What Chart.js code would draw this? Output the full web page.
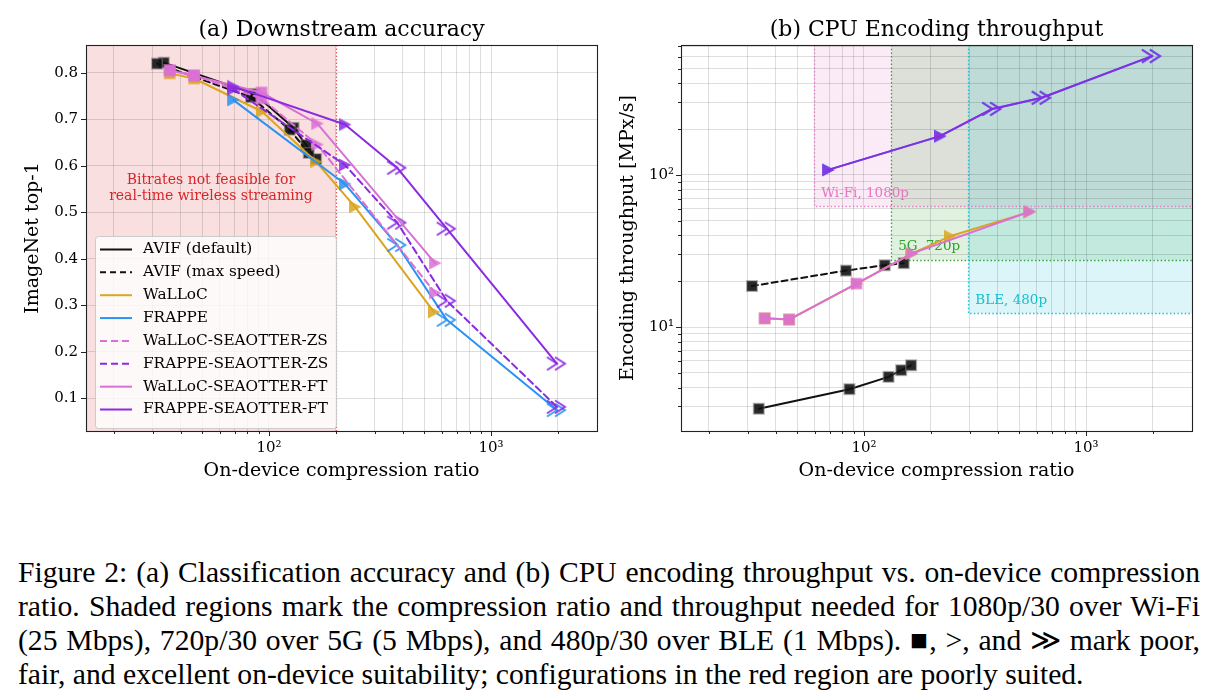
<!DOCTYPE html>
<html><head><meta charset="utf-8">
<script src="https://cdn.jsdelivr.net/npm/chart.js@4/dist/chart.umd.min.js"></script>
<style>
html,body{margin:0;padding:0;background:#fff;width:1219px;height:700px;overflow:hidden}
#c1{position:absolute;left:0;top:0}
#c2{position:absolute;left:609px;top:0}
#cap{position:absolute;left:18px;top:555px;width:1182px;font-family:'Liberation Serif','Times New Roman',serif;font-size:29.65px;line-height:34px;color:#000}
#cap .j{text-align:justify;text-align-last:justify}
</style></head>
<body>
<canvas id="c1" width="609" height="500"></canvas>
<canvas id="c2" width="610" height="500"></canvas>
<div id="cap">
<div class="j">Figure 2: (a) Classification accuracy and (b) CPU encoding throughput vs. on-device compression</div>
<div class="j">ratio. Shaded regions mark the compression ratio and throughput needed for 1080p/30 over Wi-Fi</div>
<div class="j">(25 Mbps), 720p/30 over 5G (5 Mbps), and 480p/30 over BLE (1 Mbps). ■, &gt;, and ≫ mark poor,</div>
<div>fair, and excellent on-device suitability; configurations in the red region are poorly suited.</div>
</div>
<script>
// ---------------- data ----------------
const titleA = '(a) Downstream accuracy';
const titleB = '(b) CPU Encoding throughput';
const xLabel = 'On-device compression ratio';
const yLabelA = 'ImageNet top-1';
const yLabelB = 'Encoding throughput [MPx/s]';

const xAvifDefault = [33.6, 86, 129, 147, 163];
const accAvifDefault = [0.822, 0.755, 0.682, 0.645, 0.615];
const tputAvifDefault = [2.9, 3.9, 4.7, 5.2, 5.6];
const mkAvifDefault = ['sq','sq','sq','sq','sq'];

const xAvifMax = [31.3, 83, 124, 151];
const accAvifMax = [0.820, 0.748, 0.678, 0.628];
const tputAvifMax = [18.6, 23.5, 25.5, 26.3];
const mkAvifMax = ['sq','sq','sq','sq'];

const xWalloc = [35.7, 46, 93, 163, 244, 553];
const accWalloc = [0.799, 0.788, 0.717, 0.609, 0.512, 0.286];
const tputWalloc = [11.4, 11.2, 19.3, 30.3, 39.5, 57];
const mkWalloc = ['sq','sq','tri','tri','tri','tri'];

const xFrappe = [69, 220, 378, 632, 1980];
const accFrappe = [0.742, 0.561, 0.430, 0.269, 0.075];
const tputFrappe = [108, 180, 272, 322, 605];
const mkFrappe = ['tri','tri','gg','gg','gg'];

const xWallocSea = [35.7, 46, 92.5, 165, 560];
const accWallocSeaZS = [0.806, 0.795, 0.745, 0.646, 0.327];
const accWallocSeaFT = [0.805, 0.794, 0.758, 0.691, 0.391];
const tputWallocSea = [11.4, 11.2, 19.3, 30.5, 57.5];
const mkWallocSea = ['sq','sq','sq','tri','tri'];

const xFrappeSea = [69, 220, 378, 632, 1980];
const accFrappeSeaZS = [0.765, 0.602, 0.478, 0.310, 0.082];
const accFrappeSeaFT = [0.771, 0.689, 0.596, 0.465, 0.175];
const tputFrappeSea = [108, 180, 272, 322, 605];
const mkFrappeSea = ['tri','tri','gg','gg','gg'];

const xTickVals = [20,30,40,50,60,70,80,90,100,200,300,400,500,600,700,800,900,1000,2000];
const xMajorVals = [100, 1000];
const accTickVals = [0.1,0.2,0.3,0.4,0.5,0.6,0.7,0.8];
const tputTickVals = [3,4,5,6,7,8,9,10,20,30,40,50,60,70,80,90,100,200,300,400,500,600,700];
const tputMajorVals = [10, 100];
const supLabels = {10:'10¹', 100:'10²', 1000:'10³'};

const redLimit = 200;
const redText = ['Bitrates not feasible for', 'real-time wireless streaming'];
const regionNames = ['Wi-Fi, 1080p', '5G, 720p', 'BLE, 480p'];
const regionCR = [59.7, 132.7, 295];
const regionTput = [62.2, 27.65, 12.3];

// ---------------- styles ----------------
const X_MIN = 15, X_MAX = 3000;
const ACC_MIN = 0.03, ACC_MAX = 0.86;
const TP_MIN = 2.07, TP_MAX = 716;
const GRID = 'rgba(0,0,0,0.13)';
const FONT = "'DejaVu Serif', serif";
const C = {black:'#111111', gold:'#daa520', blue:'#2a92f3', orchid:'#da70d6', violet:'#8a2be2'};
const REGION_COL = ['227,119,194', '44,160,44', '23,190,207'];
const REGION_TXT = ['#e377c2', '#2ca02c', '#17becf'];

Chart.defaults.font.family = FONT;
Chart.defaults.color = '#000';
Chart.defaults.animation = false;

function makeMarker(type, color, edge) {
  const c = document.createElement('canvas');
  const g = c.getContext('2d');
  if (type === 'sq') {
    c.width = 14; c.height = 14;
    g.globalAlpha = 0.9; g.fillStyle = color; g.fillRect(2, 2, 10, 10);
    g.globalAlpha = 0.55; g.strokeStyle = edge || color; g.lineWidth = 1.5; g.strokeRect(1.75, 1.75, 10.5, 10.5);
  } else if (type === 'tri') {
    c.width = 16; c.height = 16;
    g.globalAlpha = 0.85; g.fillStyle = color;
    g.beginPath(); g.moveTo(2, 1.5); g.lineTo(14.5, 8); g.lineTo(2, 14.5); g.closePath(); g.fill();
  } else {
    c.width = 24; c.height = 18;
    g.globalAlpha = 0.9; g.strokeStyle = color; g.lineWidth = 2;
    g.beginPath(); g.moveTo(2, 2.5); g.lineTo(12, 9); g.lineTo(2, 15.5);
    g.moveTo(10, 2.5); g.lineTo(20, 9); g.lineTo(10, 15.5); g.stroke();
  }
  return c;
}

function ds(label, xs, ys, color, dash, marks, order, edge) {
  const set = {sq: makeMarker('sq', color, edge), tri: makeMarker('tri', color), gg: makeMarker('gg', color)};
  return {
    label, data: xs.map((x, i) => ({x, y: ys[i]})),
    borderColor: color, backgroundColor: color, borderWidth: 2, borderDash: dash,
    borderJoinStyle: 'round', borderCapStyle: 'round',
    pointStyle: (ctx) => set[marks[ctx.dataIndex]],
    pointRadius: 5, pointHoverRadius: 5, tension: 0, fill: false, order
  };
}

function logTickMarks(ctx, a, xs, ys, xMaj, yMaj, yScale, xScale) {
  ctx.save();
  ctx.strokeStyle = '#222'; ctx.lineWidth = 1;
  ctx.beginPath();
  xs.forEach(v => {
    const p = Math.round(xScale.getPixelForValue(v)) + 0.5;
    const len = xMaj.includes(v) ? 5 : 3;
    ctx.moveTo(p, a.bottom); ctx.lineTo(p, a.bottom + len);
  });
  ys.forEach(v => {
    const p = Math.round(yScale.getPixelForValue(v)) + 0.5;
    const len = (yMaj === null || yMaj.includes(v)) ? 5 : 3;
    ctx.moveTo(a.left, p); ctx.lineTo(a.left - len, p);
  });
  ctx.stroke();
  ctx.strokeStyle = '#222'; ctx.lineWidth = 1.1;
  ctx.strokeRect(Math.round(a.left) + 0.5, Math.round(a.top) + 0.5, Math.round(a.right - a.left), Math.round(a.bottom - a.top));
  ctx.restore();
}

function titles(ctx, a, title, yLab, yLabX) {
  ctx.save();
  ctx.fillStyle = '#000';
  ctx.textAlign = 'center'; ctx.textBaseline = 'middle';
  ctx.font = "22px " + FONT;
  ctx.fillText(title, (a.left + a.right) / 2, 30);
  ctx.font = "19px " + FONT;
  ctx.fillText(xLabel, (a.left + a.right) / 2, 471);
  ctx.translate(yLabX, (a.top + a.bottom) / 2);
  ctx.rotate(-Math.PI / 2);
  ctx.fillText(yLab, 0, 0);
  ctx.restore();
}

function xScaleOpts() {
  return {
    type: 'logarithmic', min: X_MIN, max: X_MAX, position: 'bottom',
    afterBuildTicks: s => { s.ticks = xTickVals.map(v => ({value: v})); },
    afterFit: s => { s.height = 69; },
    ticks: {autoSkip: false, maxRotation: 0, minRotation: 0, padding: 8, font: {size: 15}, color: '#000',
      callback: v => supLabels[v] || ''},
    grid: {color: GRID, lineWidth: 1, drawTicks: false},
    border: {display: false}
  };
}

// ---------------- chart (a) ----------------
const plugA = {
  id: 'decoA',
  beforeDraw(chart) {
    const {ctx, chartArea: a, scales: {x}} = chart;
    const xr = x.getPixelForValue(redLimit);
    ctx.save();
    ctx.fillStyle = 'rgba(214,39,40,0.15)';
    ctx.fillRect(a.left, a.top, xr - a.left, a.bottom - a.top);
    ctx.restore();
  },
  beforeDatasetsDraw(chart) {
    const {ctx, chartArea: a, scales: {x, y}} = chart;
    const xr = Math.round(x.getPixelForValue(redLimit)) + 0.5;
    ctx.save();
    ctx.strokeStyle = 'rgba(214,39,40,0.75)'; ctx.lineWidth = 1.2; ctx.setLineDash([1.5, 2]);
    ctx.beginPath(); ctx.moveTo(xr, a.top); ctx.lineTo(xr, a.bottom); ctx.stroke();
    ctx.setLineDash([]);
    ctx.fillStyle = '#d62728'; ctx.font = "14px " + FONT; ctx.textAlign = 'center'; ctx.textBaseline = 'middle';
    const cx = x.getPixelForValue(Math.sqrt(X_MIN * redLimit));
    const cy = y.getPixelForValue(0.552);
    ctx.fillText(redText[0], cx, cy - 7.5);
    ctx.fillText(redText[1], cx, cy + 8);
    ctx.restore();
  },
  afterDatasetsDraw(chart) {
    const {ctx, chartArea: a, scales: {x, y}} = chart;
    // legend
    const items = chart.data.datasets.slice();
    ctx.save();
    ctx.font = "15.3px " + FONT;
    let maxW = 0; items.forEach(d => { maxW = Math.max(maxW, ctx.measureText(d.label).width); });
    const bx = 95, bb = 428, step = 22.86, bh = 192;
    const bw = Math.max(241, 48 + maxW + 7);
    const by = bb - bh;
    ctx.fillStyle = 'rgba(255,255,255,0.8)';
    ctx.strokeStyle = 'rgba(200,200,200,0.9)'; ctx.lineWidth = 1;
    ctx.beginPath();
    if (ctx.roundRect) ctx.roundRect(bx + 0.5, by + 0.5, bw, bh, 3); else ctx.rect(bx + 0.5, by + 0.5, bw, bh);
    ctx.fill(); ctx.stroke();
    items.forEach((d, i) => {
      const yy = 249.5 + i * step;
      ctx.strokeStyle = d.borderColor; ctx.lineWidth = 2; ctx.setLineDash(d.borderDash || []);
      ctx.beginPath(); ctx.moveTo(100, yy); ctx.lineTo(132, yy); ctx.stroke();
      ctx.setLineDash([]);
      ctx.fillStyle = '#000'; ctx.textAlign = 'left'; ctx.textBaseline = 'middle';
      ctx.fillText(d.label, 143, yy);
    });
    ctx.restore();
    logTickMarks(ctx, a, xTickVals, accTickVals, xMajorVals, null, y, x);
  },
  afterDraw(chart) {
    titles(chart.ctx, chart.chartArea, titleA, yLabelA, 33);
  }
};

new Chart(document.getElementById('c1'), {
  type: 'line',
  data: {datasets: [
    ds('AVIF (default)', xAvifDefault, accAvifDefault, C.black, [], mkAvifDefault, 10, '#777'),
    ds('AVIF (max speed)', xAvifMax, accAvifMax, C.black, [6, 4], mkAvifMax, 9, '#777'),
    ds('WaLLoC', xWalloc, accWalloc, C.gold, [], mkWalloc, 8),
    ds('FRAPPE', xFrappe, accFrappe, C.blue, [], mkFrappe, 7),
    ds('WaLLoC-SEAOTTER-ZS', xWallocSea, accWallocSeaZS, C.orchid, [7, 4], mkWallocSea, 6),
    ds('FRAPPE-SEAOTTER-ZS', xFrappeSea, accFrappeSeaZS, C.violet, [7, 4], mkFrappeSea, 5),
    ds('WaLLoC-SEAOTTER-FT', xWallocSea, accWallocSeaFT, C.orchid, [], mkWallocSea, 4),
    ds('FRAPPE-SEAOTTER-FT', xFrappeSea, accFrappeSeaFT, C.violet, [], mkFrappeSea, 3)
  ]},
  options: {
    responsive: false, devicePixelRatio: 1, animation: false,
    layout: {padding: {left: 0, top: 45, right: 12, bottom: 0}},
    plugins: {legend: {display: false}, tooltip: {enabled: false}, title: {display: false}},
    scales: {
      x: xScaleOpts(),
      y: {
        type: 'linear', min: ACC_MIN, max: ACC_MAX,
        afterBuildTicks: s => { s.ticks = accTickVals.map(v => ({value: v})); },
        afterFit: s => { s.width = 86; },
        ticks: {padding: 8, font: {size: 15}, color: '#000', callback: v => Number(v).toFixed(1)},
        grid: {color: GRID, lineWidth: 1, drawTicks: false},
        border: {display: false}
      }
    }
  },
  plugins: [plugA]
});

// ---------------- chart (b) ----------------
const plugB = {
  id: 'decoB',
  beforeDraw(chart) {
    const {ctx, chartArea: a, scales: {x, y}} = chart;
    ctx.save();
    for (let i = 0; i < 3; i++) {
      const xl = x.getPixelForValue(regionCR[i]);
      const yb = y.getPixelForValue(regionTput[i]);
      ctx.fillStyle = 'rgba(' + REGION_COL[i] + ',0.15)';
      ctx.fillRect(xl, a.top, a.right - xl, yb - a.top);
    }
    ctx.restore();
  },
  beforeDatasetsDraw(chart) {
    const {ctx, chartArea: a, scales: {x, y}} = chart;
    ctx.save();
    ctx.lineWidth = 1.3; ctx.setLineDash([1.5, 2.2]);
    for (let i = 0; i < 3; i++) {
      const xl = Math.round(x.getPixelForValue(regionCR[i])) + 0.5;
      const yb = Math.round(y.getPixelForValue(regionTput[i])) + 0.5;
      ctx.strokeStyle = 'rgba(' + REGION_COL[i] + ',0.95)';
      ctx.beginPath(); ctx.moveTo(xl, a.top); ctx.lineTo(xl, yb); ctx.lineTo(a.right, yb); ctx.stroke();
    }
    ctx.setLineDash([]);
    ctx.font = "13.5px " + FONT; ctx.textAlign = 'left'; ctx.textBaseline = 'middle';
    for (let i = 0; i < 3; i++) {
      const xl = x.getPixelForValue(regionCR[i]);
      const yb = y.getPixelForValue(regionTput[i]);
      ctx.fillStyle = REGION_TXT[i];
      ctx.fillText(regionNames[i], xl + 7, yb - 13);
    }
    ctx.restore();
  },
  afterDatasetsDraw(chart) {
    const {ctx, chartArea: a, scales: {x, y}} = chart;
    logTickMarks(ctx, a, xTickVals, tputTickVals, xMajorVals, tputMajorVals, y, x);
  },
  afterDraw(chart) {
    titles(chart.ctx, chart.chartArea, titleB, yLabelB, 19);
  }
};

new Chart(document.getElementById('c2'), {
  type: 'line',
  data: {datasets: [
    ds('AVIF (default)', xAvifDefault, tputAvifDefault, C.black, [], mkAvifDefault, 10, '#777'),
    ds('AVIF (max speed)', xAvifMax, tputAvifMax, C.black, [6, 4], mkAvifMax, 9, '#777'),
    ds('WaLLoC', xWalloc, tputWalloc, C.gold, [], mkWalloc, 8),
    ds('FRAPPE', xFrappe, tputFrappe, C.blue, [], mkFrappe, 7),
    ds('WaLLoC-SEAOTTER', xWallocSea, tputWallocSea, C.orchid, [], mkWallocSea, 4),
    ds('FRAPPE-SEAOTTER', xFrappeSea, tputFrappeSea, C.violet, [], mkFrappeSea, 3)
  ]},
  options: {
    responsive: false, devicePixelRatio: 1, animation: false,
    layout: {padding: {left: 0, top: 45, right: 27, bottom: 0}},
    plugins: {legend: {display: false}, tooltip: {enabled: false}, title: {display: false}},
    scales: {
      x: xScaleOpts(),
      y: {
        type: 'logarithmic', min: TP_MIN, max: TP_MAX,
        afterBuildTicks: s => { s.ticks = tputTickVals.map(v => ({value: v})); },
        afterFit: s => { s.width = 72; },
        ticks: {autoSkip: false, padding: 7, font: {size: 15}, color: '#000', callback: v => supLabels[v] || ''},
        grid: {color: GRID, lineWidth: 1, drawTicks: false},
        border: {display: false}
      }
    }
  },
  plugins: [plugB]
});
</script>
</body></html>
